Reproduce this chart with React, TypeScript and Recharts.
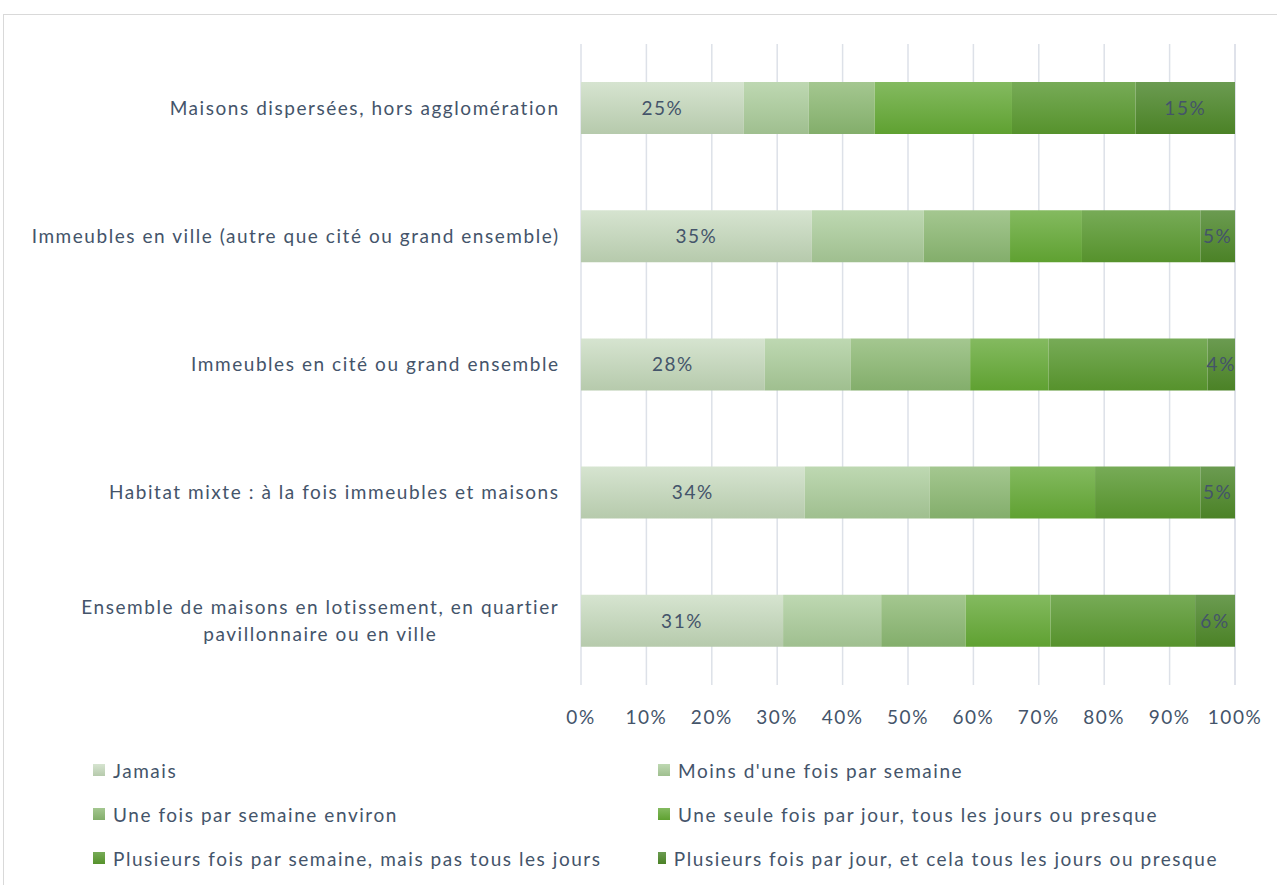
import React from "react";
import { Bar, BarChart, CartesianGrid, LabelList, XAxis, YAxis } from "recharts";

const FONT = "Lato, 'Open Sans', sans-serif";
const TEXT = "#44546A";
const SPACING = 1.55;

const categories = [
  "Maisons dispersées, hors agglomération",
  "Immeubles en ville (autre que cité ou grand ensemble)",
  "Immeubles en cité ou grand ensemble",
  "Habitat mixte : à la fois immeubles et maisons",
  "Ensemble de maisons en lotissement, en quartier\npavillonnaire ou en ville",
];

const jamais = [24.9, 35.3, 28.1, 34.2, 30.9];
const moinsUneFoisSemaine = [9.9, 17.1, 13.1, 19.1, 15.0];
const uneFoisSemaine = [10.1, 13.2, 18.3, 12.3, 12.9];
const uneFoisJour = [21.0, 11.0, 12.0, 13.0, 13.0];
const plusieursFoisSemaine = [18.9, 18.1, 24.3, 16.1, 22.1];
const plusieursFoisJour = [15.2, 5.3, 4.2, 5.3, 6.1];

const xTicks = [0, 10, 20, 30, 40, 50, 60, 70, 80, 90, 100];

const series = [
  { key: "jamais", name: "Jamais", values: jamais, top: "#d6e4d0", bottom: "#b6caac", label: true },
  { key: "moins", name: "Moins d'une fois par semaine", values: moinsUneFoisSemaine, top: "#bed8b2", bottom: "#9fbf8f", label: false },
  { key: "semaine", name: "Une fois par semaine environ", values: uneFoisSemaine, top: "#a4c790", bottom: "#83ae6b", label: false },
  { key: "jour", name: "Une seule fois par jour, tous les jours ou presque", values: uneFoisJour, top: "#84ba60", bottom: "#5fa131", label: false },
  { key: "plusSemaine", name: "Plusieurs fois par semaine, mais pas tous les jours", values: plusieursFoisSemaine, top: "#77ab57", bottom: "#56922c", label: false },
  { key: "plusJour", name: "Plusieurs fois par jour, et cela tous les jours ou presque", values: plusieursFoisJour, top: "#6b9b51", bottom: "#4b8226", label: true },
];

const data = categories.map((cat, i) => {
  const row: Record<string, string | number> = { cat };
  series.forEach((s) => {
    row[s.key] = s.values[i];
  });
  return row;
});

let canvas: HTMLCanvasElement | null = null;
function textWidth(t: string, size: number) {
  if (!canvas) canvas = document.createElement("canvas");
  const ctx = canvas.getContext("2d")!;
  ctx.font = `${size}px ${FONT}`;
  return ctx.measureText(t).width + t.length * SPACING;
}

function CategoryTick(props: any) {
  const { x, y, payload } = props;
  const lines = String(payload.value).split("\n");
  // letterSpacing leaves a trailing gap after the last glyph, push back by it
  const right = x + SPACING;
  if (lines.length === 1) {
    return (
      <text x={right} y={y} dy="0.35em" textAnchor="end" fill={TEXT} fontSize={19} fontFamily={FONT} letterSpacing={SPACING}>
        {lines[0]}
      </text>
    );
  }
  const w = Math.max(...lines.map((l) => textWidth(l, 19)));
  const cx = right - w / 2;
  const lh = 27;
  const start = y - ((lines.length - 1) * lh) / 2;
  return (
    <text textAnchor="middle" fill={TEXT} fontSize={19} fontFamily={FONT} letterSpacing={SPACING}>
      {lines.map((l, i) => (
        <tspan key={i} x={cx} y={start + i * lh} dy="0.35em">
          {l}
        </tspan>
      ))}
    </text>
  );
}

export default function App() {
  return (
    <div style={{ position: "absolute", left: 0, top: 0, width: 1277, height: 885, overflow: "hidden", background: "#fff" }}>
      <div
        style={{
          position: "absolute",
          left: 3,
          top: 14,
          width: 1300,
          height: 900,
          border: "1px solid #d9d9d9",
        }}
      />
      <div style={{ position: "absolute", left: 0, top: 0 }}>
        <BarChart
          width={1277}
          height={885}
          data={data}
          layout="vertical"
          margin={{ top: 44, right: 42, left: 0, bottom: 160 }}
          barSize={52}
        >
          <defs>
            {series.map((s) => (
              <linearGradient key={s.key} id={`g-${s.key}`} x1="0" y1="0" x2="0" y2="1">
                <stop offset="0%" stopColor={s.top} />
                <stop offset="100%" stopColor={s.bottom} />
              </linearGradient>
            ))}
          </defs>
          <CartesianGrid horizontal={false} stroke="#dde1e8" strokeWidth={1.5} />
          <XAxis
            type="number"
            domain={[0, 100]}
            ticks={xTicks}
            tickFormatter={(v) => `${v}%`}
            axisLine={false}
            tickLine={false}
            tickMargin={20}
            height={40}
            interval={0}
            tick={{ fill: TEXT, fontSize: 19, fontFamily: FONT, letterSpacing: SPACING }}
          />
          <YAxis
            type="category"
            dataKey="cat"
            width={581}
            axisLine={false}
            tickLine={false}
            tickMargin={17}
            interval={0}
            tick={<CategoryTick />}
          />
          {series.map((s) => (
            <Bar key={s.key} dataKey={s.key} name={s.name} stackId="a" fill={`url(#g-${s.key})`} isAnimationActive={false}>
              {s.label && (
                <LabelList
                  dataKey={s.key}
                  position="center"
                  formatter={(v: any) => `${Math.round(Number(v))}%`}
                  fill={TEXT}
                  fontSize={19}
                  fontFamily={FONT}
                  letterSpacing={SPACING}
                />
              )}
            </Bar>
          ))}
        </BarChart>
      </div>
      <div
        style={{
          position: "absolute",
          left: 93,
          top: 757,
          display: "grid",
          gridTemplateColumns: "565px 560px",
          rowGap: 18,
          fontFamily: FONT,
          fontSize: 19,
          letterSpacing: SPACING,
          color: TEXT,
        }}
      >
        {series.map((s) => (
          <div key={s.key} style={{ display: "flex", alignItems: "center", height: 26, whiteSpace: "nowrap" }}>
            <span
              style={{
                display: "inline-block",
                width: 12,
                height: 12,
                marginRight: 8,
                background: `linear-gradient(${s.top}, ${s.bottom})`,
              }}
            />
            {s.name}
          </div>
        ))}
      </div>
    </div>
  );
}
